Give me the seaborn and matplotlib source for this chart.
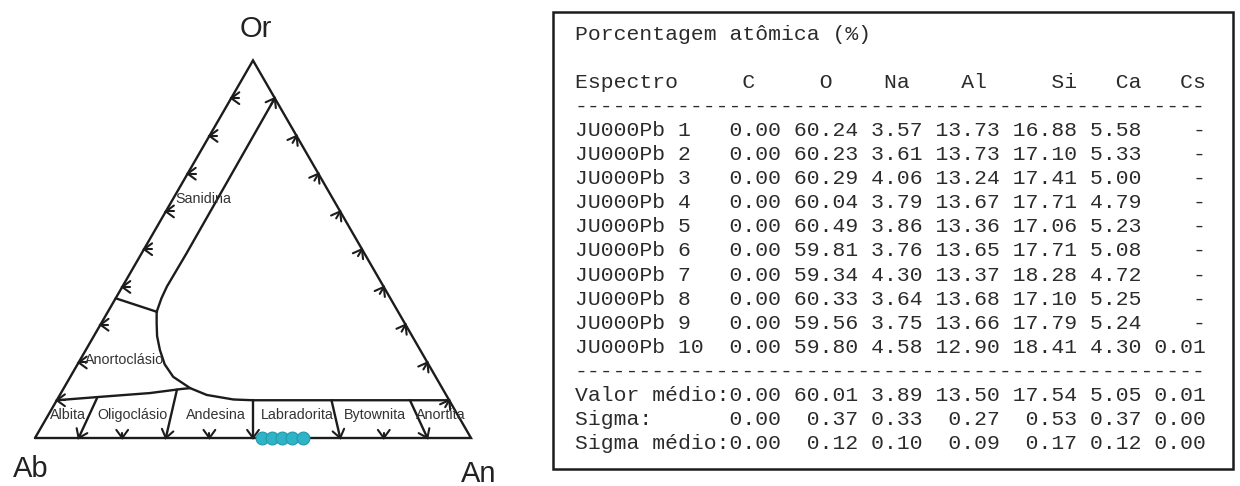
import numpy as np
import matplotlib
matplotlib.use("Agg")
import matplotlib.pyplot as plt
from matplotlib.patches import Rectangle
import seaborn as sns

# === data: analysed points on the Ab-An join (An %, Or %) ===
POINT_AN = [52.1, 54.4, 56.7, 59.0, 61.5]
POINT_OR = [0.0, 0.0, 0.0, 0.0, 0.0]

# === feldspar field boundaries, ternary (An %, Or %) ===
SANIDINE_AN = [10.0, 10.3, 10.2, 10.5, 11.2, 12.7, 14.5, 17.0, 20.0, 23.6, 29.0, 33.7, 40.4, 45.0, 90.0]
SANIDINE_OR = [90.0, 48.9, 40.1, 37.0, 33.4, 30.4, 27.0, 23.3, 19.5, 16.2, 13.2, 11.4, 10.2, 10.0, 10.0]
ANORTHO_AN = [0.0, 9.5, 20.4, 27.2, 29.0]
ANORTHO_OR = [10.0, 10.9, 11.9, 13.0, 13.2]
SAN_ANO_AN = [0.0, 11.3]
SAN_ANO_OR = [37.0, 33.4]
PLAG_RATIO = [10, 30, 50, 70, 90]          # An/(An+Ab) of plagioclase divisions
PLAG_TOP_OR = [10.6, 12.8, 10.0, 10.0, 10.0]
EDGE_TICKS = [10, 20, 30, 40, 50, 60, 70, 80, 90]
BASE_TICKS = [10, 20, 30, 40, 50, 70, 80, 90]   # 60 sits under the analysed points

FIELD_NAMES = ["Sanidina", "Anortoclásio", "Albita", "Oligoclásio", "Andesina",
               "Labradorita", "Bytownita", "Anortita"]
FIELD_AN = [6.9, 10.1, 4.5, 19.2, 38.5, 57.0, 74.9, 90.1]
FIELD_OR = [63.3, 20.7, 6.1, 6.1, 6.1, 6.1, 6.1, 6.1]

# === table data ===
TABLE_TITLE = "Porcentagem atômica (%)"
ELEMENTS = ["C", "O", "Na", "Al", "Si", "Ca", "Cs"]
SPECTRA = [f"JU000Pb {i}" for i in range(1, 11)]
C_VALS = [0.00, 0.00, 0.00, 0.00, 0.00, 0.00, 0.00, 0.00, 0.00, 0.00]
O_VALS = [60.24, 60.23, 60.29, 60.04, 60.49, 59.81, 59.34, 60.33, 59.56, 59.80]
NA_VALS = [3.57, 3.61, 4.06, 3.79, 3.86, 3.76, 4.30, 3.64, 3.75, 4.58]
AL_VALS = [13.73, 13.73, 13.24, 13.67, 13.36, 13.65, 13.37, 13.68, 13.66, 12.90]
SI_VALS = [16.88, 17.10, 17.41, 17.71, 17.06, 17.71, 18.28, 17.10, 17.79, 18.41]
CA_VALS = [5.58, 5.33, 5.00, 4.79, 5.23, 5.08, 4.72, 5.25, 5.24, 4.30]
CS_VALS = [None, None, None, None, None, None, None, None, None, 0.01]
SUMMARY_LABELS = ["Valor médio:", "Sigma:", "Sigma médio:"]
MEAN_VALS = [0.00, 60.01, 3.89, 13.50, 17.54, 5.05, 0.01]
SIGMA_VALS = [0.00, 0.37, 0.33, 0.27, 0.53, 0.37, 0.00]
SIGMA_MEAN_VALS = [0.00, 0.12, 0.10, 0.09, 0.17, 0.12, 0.00]

INK = "#1c1c1c"
LW = 1.7
SCALE = 436.0  # pixels per unit side of the triangle
H = np.sqrt(3) / 2


def tern(an, orr):
    an = np.asarray(an, dtype=float) / 100
    orr = np.asarray(orr, dtype=float) / 100
    return an + orr / 2, orr * H


def arrow_head(ax, x, y, ang, arm=10.0, half=36, shaft=0.0):
    a = np.radians(ang)
    arm_u = arm / SCALE
    pts = []
    for s in (1, -1):
        b = a + np.pi + s * np.radians(half)
        pts.append((x + arm_u * np.cos(b), y + arm_u * np.sin(b)))
    ax.plot([pts[0][0], x, pts[1][0]], [pts[0][1], y, pts[1][1]],
            color=INK, lw=1.5, solid_joinstyle="miter")
    if shaft:
        sh = shaft / SCALE
        ax.plot([x, x - sh * np.cos(a)], [y, y - sh * np.sin(a)], color=INK, lw=1.5)


sns.set_theme(style="white")
fig = plt.figure(figsize=(12.4, 4.86), dpi=100)

# ---------- ternary diagram ----------
ax = fig.add_axes([0, 0, 1, 1])

tx, ty = tern([0, 100, 0, 0], [0, 0, 100, 0])
ax.plot(tx, ty, color=INK, lw=LW, solid_joinstyle="miter")

for xs, ys in [(SANIDINE_AN, SANIDINE_OR), (ANORTHO_AN, ANORTHO_OR), (SAN_ANO_AN, SAN_ANO_OR)]:
    cx, cy = tern(xs, ys)
    ax.plot(cx, cy, color=INK, lw=LW, solid_joinstyle="round")

for r, top in zip(PLAG_RATIO, PLAG_TOP_OR):
    cx, cy = tern([r, r * (100 - top) / 100], [0, top])
    ax.plot(cx, cy, color=INK, lw=LW)

apex_x, apex_y = tern(0, 100)
for t in BASE_TICKS:
    # base: An/(An+Ab) ticks
    bx, by = tern(t, 0)
    ang = np.degrees(np.arctan2(by - apex_y, bx - apex_x)) if t in PLAG_RATIO else -90
    arrow_head(ax, bx, by, ang, shaft=0 if t in PLAG_RATIO else 5)
for t in EDGE_TICKS:
    # left edge: Or ticks
    lx, ly = tern(0, t)
    arrow_head(ax, lx, ly, 180, shaft=8)
    # right edge: An ticks
    rx, ry = tern(t, 100 - t)
    arrow_head(ax, rx, ry, 60, shaft=8)

for name, a, o in zip(FIELD_NAMES, FIELD_AN, FIELD_OR):
    fx, fy = tern(a, o)
    ax.text(fx, fy, name, fontsize=10.3, color="#333333", ha="center", va="center",
            family=["Liberation Sans", "DejaVu Sans"])

px, py = tern(POINT_AN, POINT_OR)
sns.scatterplot(x=px, y=py, ax=ax, s=85, color="#2fb3c6", edgecolor="#2299ad",
                linewidth=0.8, zorder=5, legend=False)
ax.set_xlim(-35 / SCALE, 1205 / SCALE)
ax.set_ylim(-48 / SCALE, 438 / SCALE)
ax.axis("off")

corner_font = dict(fontsize=21, color="#222222", ha="center", va="center",
                   family=["Liberation Sans", "DejaVu Sans"])
ax.text(221 / SCALE, 409 / SCALE, "Or", **corner_font)
ax.text(-4 / SCALE, -31 / SCALE, "Ab", **corner_font)
ax.text(444 / SCALE, -36 / SCALE, "An", **corner_font)

# ---------- table ----------
tab = fig.add_axes([0, 0, 1, 1])
tab.set_xlim(0, 1240)
tab.set_ylim(486, 0)
tab.axis("off")
tab.add_patch(Rectangle((553, 12), 1233 - 553, 469 - 12, fill=False, lw=1.8, ec=INK))

WIDTHS = [4, 6, 5, 6, 6, 5, 5]
HEADER_COLS = [13, 19, 24, 30, 37, 42, 47]


def fmt_row(label, vals):
    s = label.ljust(12)
    for v, w in zip(vals, WIDTHS):
        s += ("-" if v is None else f"{v:.2f}").rjust(w)
    return s


header = list("Espectro".ljust(49))
for col, el in zip(HEADER_COLS, ELEMENTS):
    header[col:col + len(el)] = list(el)

lines = [TABLE_TITLE, "", "".join(header).rstrip(), "-" * 49]
for i, name in enumerate(SPECTRA):
    lines.append(fmt_row(name, [C_VALS[i], O_VALS[i], NA_VALS[i], AL_VALS[i],
                                SI_VALS[i], CA_VALS[i], CS_VALS[i]]))
lines.append("-" * 49)
for lab, vals in zip(SUMMARY_LABELS, [MEAN_VALS, SIGMA_VALS, SIGMA_MEAN_VALS]):
    lines.append(fmt_row(lab, vals))

for i, line in enumerate(lines):
    tab.text(575, 34 + 24.1 * i, line, fontsize=15.4, color="#2b2b2b", ha="left", va="center",
             family=["Liberation Mono", "DejaVu Sans Mono"])

fig.savefig("out.png", dpi=100)
